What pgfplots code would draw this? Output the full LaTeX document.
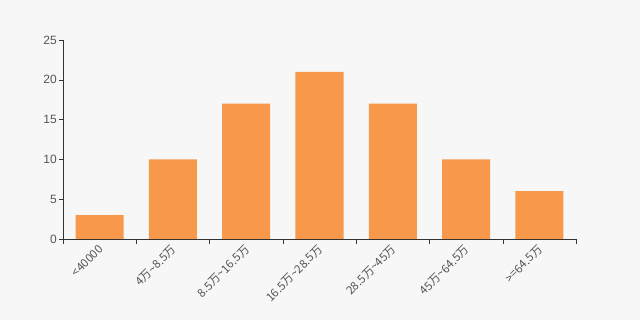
\documentclass[border=0pt]{standalone}
\usepackage{pgfplots}
\pgfplotsset{compat=1.18}
\usepackage{fontspec}
\setmainfont{Liberation Sans}
\newfontfamily\cjk{Noto Sans CJK SC}
\definecolor{bg}{HTML}{F7F7F7}
\definecolor{bar}{HTML}{F7984A}
\definecolor{axc}{HTML}{333333}
\definecolor{txt}{HTML}{555555}
\begin{document}
\begin{tikzpicture}[x=1pt,y=1pt]
\fill[bg] (0,0) rectangle (640,320);
\begin{axis}[
  at={(63pt,81pt)}, anchor=south west,
  scale only axis, width=513pt, height=199pt,
  xmin=-0.5, xmax=6.5, ymin=0, ymax=25,
  axis x line*=bottom, axis y line*=left,
  axis line style={axc, -},
  ytick={0,5,...,25},
  xtick={0,...,6},
  xticklabels={{<40000},{4万\textasciitilde 8.5万},{8.5万\textasciitilde 16.5万},{16.5万\textasciitilde 28.5万},{28.5万\textasciitilde 45万},{45万\textasciitilde 64.5万},{>=64.5万}},
  major x tick style={draw=none},
  minor xtick={-0.5,0.5,...,6.5},
  minor tick length=5pt,
  minor x tick style={axc},
  major tick length=4pt,
  tick align=outside,
  y tick style={axc},
  /pgf/number format/assume math mode=true,
  yticklabel style={font=\fontsize{12}{14}\selectfont, text=txt, inner sep=2pt},
  xticklabel style={font=\cjk\fontsize{11.5}{14}\selectfont, text=txt, rotate=45, anchor=east, inner sep=2pt, yshift=-4pt},
]
\addplot[ybar, bar width=0.655, fill=bar, draw=none] coordinates {
  (0,3) (1,10) (2,17) (3,21) (4,17) (5,10) (6,6)
};
\end{axis}
\end{tikzpicture}
\end{document}
